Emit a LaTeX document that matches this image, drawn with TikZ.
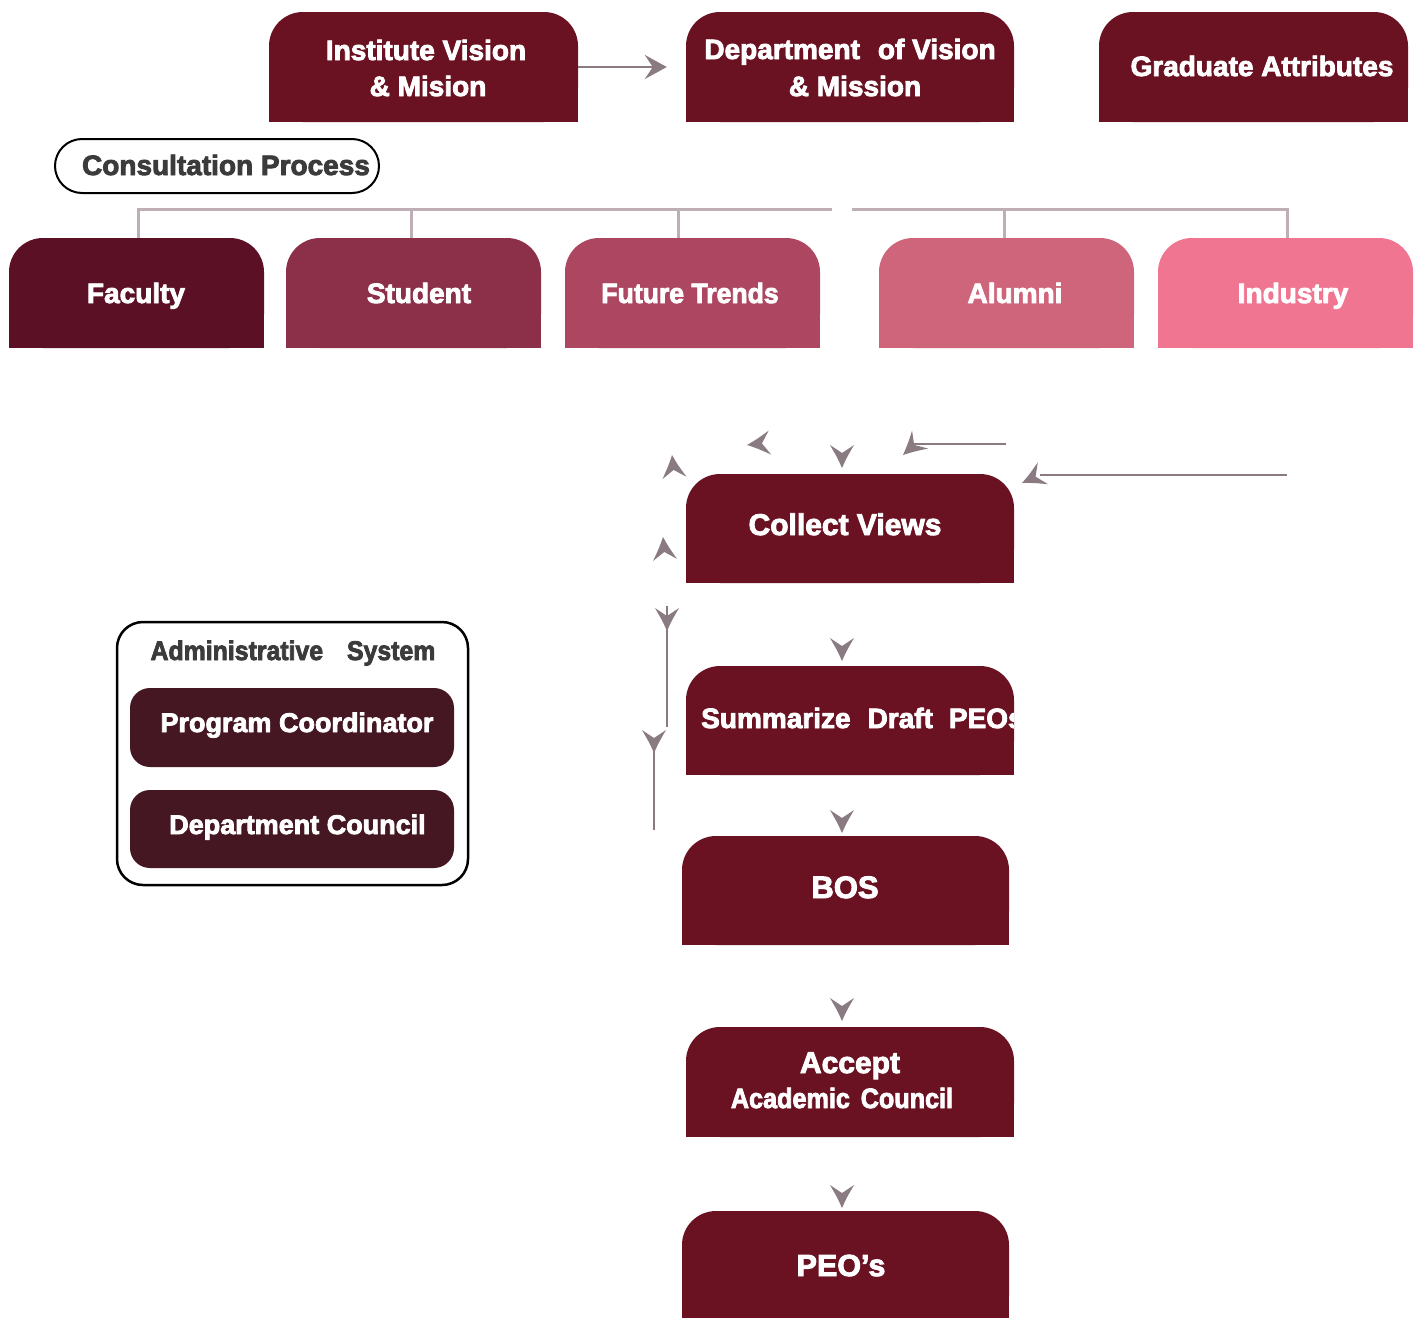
\documentclass[tikz,border=0pt]{standalone}
\usepackage{fontspec}
\setmainfont{Liberation Sans}[BoldFont={* Bold}, BoldFeatures={FakeBold=3}]
\usetikzlibrary{arrows.meta}
\definecolor{boxred}{HTML}{6A1222}
\definecolor{cFac}{HTML}{5B1025}
\definecolor{cStu}{HTML}{8C3049}
\definecolor{cFut}{HTML}{AD4761}
\definecolor{cAlu}{HTML}{CF657B}
\definecolor{cInd}{HTML}{F07590}
\definecolor{cAdm}{HTML}{451722}
\definecolor{arrgray}{HTML}{8A7B82}
\definecolor{treegray}{HTML}{BEAFB6}
\definecolor{txtgray}{HTML}{3B3B3B}
\tikzset{
  wtxt/.style={text=white, inner sep=0pt, anchor=base, font=\fontsize{#1}{#1}\selectfont\bfseries},
  wtxt/.default=28,
  gtxt/.style={text=txtgray, inner sep=0pt, anchor=base, font=\fontsize{#1}{#1}\selectfont\bfseries},
  gtxt/.default=28,
  treeline/.style={draw=treegray, line width=3pt},
  conn/.style={draw=arrgray, line width=2.5pt},
  headfill/.style={fill=arrgray}
}
% top-rounded box: name, x1, y1, x2, y2, colour
\newcommand\tbox[6]{%
  \fill[#6,rounded corners=34pt] (#2,#3) rectangle (#4,#5);
  \fill[#6] (#2,{(#3+#5)/2}) rectangle (#4,#5);
  \node[inner sep=0pt, minimum width={(#4-#2)*1pt}, minimum height={(#5-#3)*1pt}] (#1) at ({(#2+#4)/2},{(#3+#5)/2}) {};
}
% free arrow head: tip x, tip y, direction angle
\newcommand\ahd[3]{%
  \begin{scope}[shift={(#1,#2)}, rotate=#3]
    \fill[headfill] (0pt,0pt) .. controls (-10pt,4.5pt) .. (-23pt,12pt) -- (-15pt,0pt) -- (-23pt,-12pt) .. controls (-10pt,-4.5pt) .. (0pt,0pt) -- cycle;
  \end{scope}}
\begin{document}
\begin{tikzpicture}[x=1pt,y=-1pt]
\useasboundingbox (0,0) rectangle (1421,1317);
\fill[white] (0,0) rectangle (1421,1317);

% top row
\tbox{inst}{269}{12}{578}{122}{boxred}
\tbox{dept}{686}{12}{1014}{122}{boxred}
\tbox{grad}{1099}{12}{1408}{122}{boxred}
\node[wtxt] (tinst1) at (426,60) {Institute Vision};
\node[wtxt] (tinst2) at (428,96) {\& Mision};
\node[wtxt] (tdept1) at (850,59) {Department\hspace{18pt}of Vision};
\node[wtxt] (tdept2) at (855,96) {\& Mission};
\node[wtxt] (tgrad) at (1262,76) {Graduate Attributes};

\draw[conn, -{Stealth[length=22pt,width=24pt,inset=8pt]}] (inst.east) -- ([xshift=-19pt]dept.west);

% consultation
\node[draw=black, line width=2pt, rounded corners=27pt, minimum width=324pt, minimum height=54pt, inner sep=0pt] (cons) at (217,166) {};
\node[gtxt] (tcons) at (226,175) {Consultation Process};

% stakeholder row
\tbox{fac}{9}{238}{264}{348}{cFac}
\tbox{stu}{286}{238}{541}{348}{cStu}
\tbox{fut}{565}{238}{820}{348}{cFut}
\tbox{alu}{879}{238}{1134}{348}{cAlu}
\tbox{ind}{1158}{238}{1413}{348}{cInd}
\node[wtxt] (tfac) at (136,303) {Faculty};
\node[wtxt] (tstu) at (419,303) {Student};
\node[wtxt] (tfut) at (690,303) {\scalebox{0.95}[1]{Future Trends}};
\node[wtxt] (talu) at (1015,303) {Alumni};
\node[wtxt] (tind) at (1293,303) {Industry};

\coordinate (gapL) at (832,209);
\coordinate (gapR) at (852,209);
\draw[treeline] ([xshift=1.5pt]fac.north) |- (gapL);
\draw[treeline] ([xshift=-2.5pt]stu.north) -- ([xshift=-2.5pt]stu.north |- gapL);
\draw[treeline] ([xshift=-14.5pt]fut.north) -- ([xshift=-14.5pt]fut.north |- gapL);
\draw[treeline] (gapR) -| ([xshift=1.5pt]ind.north);
\draw[treeline] ([xshift=-2.5pt]alu.north) -- ([xshift=-2.5pt]alu.north |- gapR);

% process column
\tbox{coll}{686}{474}{1014}{583}{boxred}
\tbox{summ}{686}{666}{1014}{775}{boxred}
\tbox{bos}{682}{836}{1009}{945}{boxred}
\tbox{acc}{686}{1027}{1014}{1137}{boxred}
\tbox{peo}{682}{1211}{1009}{1330}{boxred}
\node[wtxt=30] (tcoll) at (845,535) {Collect Views};
\begin{scope}
  \clip (summ.north west) rectangle (summ.south east);
  \node[wtxt, anchor=base west] (tsumm) at (701,728) {Summarize\hspace{17pt}Draft\hspace{16pt}PEOs};
\end{scope}
\node[wtxt=31] (tbos) at (845,898) {BOS};
\node[wtxt=30] (tacc1) at (850,1073) {Accept};
\node[wtxt=28] (tacc2) at (842,1108) {\scalebox{0.9}[1]{Academic\hspace{12pt}Council}};
\node[wtxt=30.5] (tpeo) at (841,1276) {PEO’s};

% arrows into Collect Views
\coordinate (lineA) at (1006,444);
\coordinate (lineB) at (1287,475);
\draw[conn] (lineA) -- (913,444);
\draw[conn] (lineB) -- (1040,475);
\ahd{842}{468}{-90}
\ahd{747}{445}{186}
\ahd{903}{455}{222}
\ahd{1022}{483}{205}
\ahd{672}{455}{96}
\ahd{663}{537}{95}

% down arrows between steps
\ahd{842}{661}{-90}
\ahd{842}{833}{-90}
\ahd{842}{1021}{-90}
\ahd{842}{1208}{-90}

% left feedback lines
\coordinate (fb1) at (667,606);
\coordinate (fb2) at (667,727);
\coordinate (fb3) at (654,742);
\coordinate (fb4) at (654,830);
\draw[conn] (fb1) -- (fb2);
\draw[conn] (fb3) -- (fb4);
\ahd{667}{631}{-90}
\ahd{654}{753}{-90}

% administrative system
\node[draw=black, line width=2.5pt, rounded corners=26pt, minimum width=351pt, minimum height=263pt, inner sep=0pt] (adm) at (292.5,753.5) {};
\node[gtxt=27] (tadm) at (293,660) {\scalebox{0.92}[1]{Administrative\hspace{26pt}System}};
\node[fill=cAdm, rounded corners=20pt, minimum width=324pt, minimum height=79pt, inner sep=0pt] (pc) at (292,727.5) {};
\node[fill=cAdm, rounded corners=20pt, minimum width=324pt, minimum height=78pt, inner sep=0pt] (dc) at (292,829) {};
\node[wtxt=27] (tpc) at (297,732) {Program Coordinator};
\node[wtxt=27] (tdc) at (297.5,834) {Department Council};
\end{tikzpicture}
\end{document}
